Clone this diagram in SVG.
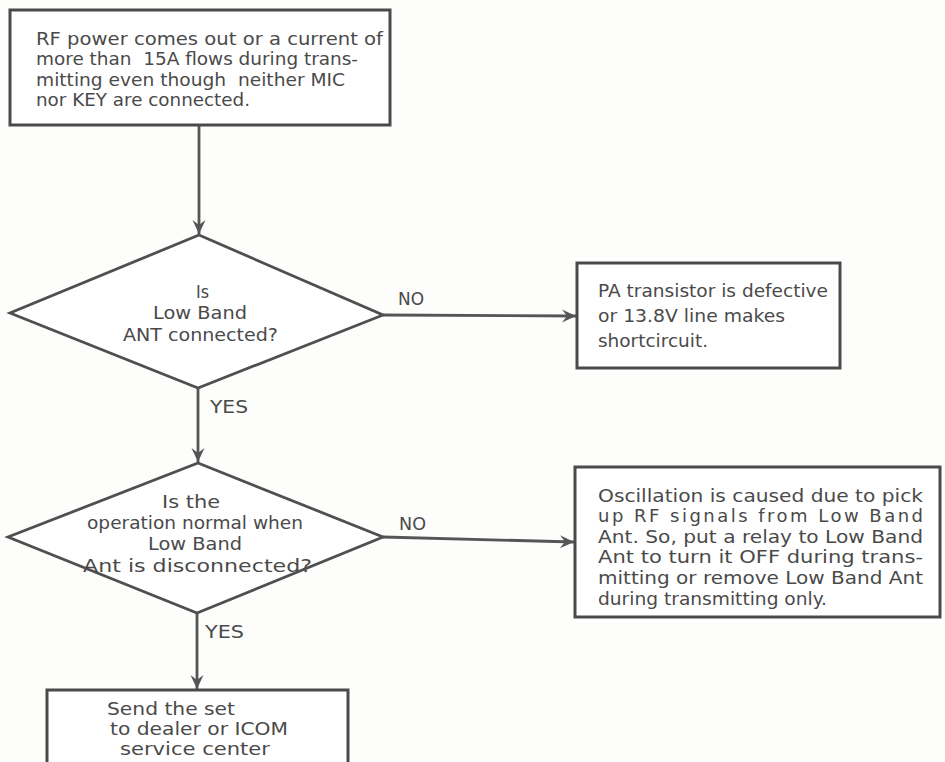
<svg xmlns="http://www.w3.org/2000/svg" width="945" height="762" viewBox="0 0 945 762">
<defs>
<style>
.bg{fill:#fdfdfc}
.box{fill:#ffffff;stroke:#4a4a4a;stroke-width:3}
.dia{fill:#ffffff;stroke:#4f4f4f;stroke-width:2.8;stroke-linejoin:miter}
.t{font-family:"DejaVu Sans","Liberation Sans",sans-serif;font-size:18px;fill:#4a4a4a}
.lbl{font-family:"DejaVu Sans","Liberation Sans",sans-serif;font-size:18px;fill:#4a4a4a}
.c{fill:none;stroke:#555555;stroke-width:2.8}
</style>
<marker id="arr" viewBox="-15 -8 17 16" refX="0" refY="0" markerWidth="17" markerHeight="16" orient="auto" markerUnits="userSpaceOnUse">
<path d="M0,0 L-14,-6.5 L-9,0 L-14,6.5 Z" fill="#555555"/>
</marker>
</defs>
<rect class="bg" x="0" y="0" width="945" height="762"/>

<g id="connectors">
<line class="c" x1="199" y1="126" x2="199" y2="234" marker-end="url(#arr)"/>
<line class="c" x1="198" y1="388" x2="198" y2="462" marker-end="url(#arr)"/>
<line class="c" x1="383" y1="315" x2="576" y2="316" marker-end="url(#arr)"/>
<line class="c" x1="383" y1="537" x2="574" y2="542" marker-end="url(#arr)"/>
<line class="c" x1="197" y1="613" x2="197" y2="689" marker-end="url(#arr)"/>
<text class="lbl" x="210" y="413" textLength="38" lengthAdjust="spacingAndGlyphs">YES</text>
<text class="lbl" x="398" y="305" textLength="26" lengthAdjust="spacingAndGlyphs">NO</text>
<text class="lbl" x="399" y="530" textLength="27" lengthAdjust="spacingAndGlyphs">NO</text>
<text class="lbl" x="205" y="638" textLength="39" lengthAdjust="spacingAndGlyphs">YES</text>
</g>

<g id="start">
<rect class="box" x="10" y="10" width="380" height="115"/>
<text class="t" x="36" y="45" textLength="347" lengthAdjust="spacingAndGlyphs">RF power comes out or a current of</text>
<text class="t" x="36" y="65" textLength="322" lengthAdjust="spacingAndGlyphs" xml:space="preserve">more than  15A flows during trans-</text>
<text class="t" x="36" y="86" textLength="309" lengthAdjust="spacingAndGlyphs" xml:space="preserve">mitting even though  neither MIC</text>
<text class="t" x="36" y="106" textLength="214" lengthAdjust="spacingAndGlyphs">nor KEY are connected.</text>
</g>

<g id="decision1">
<polygon class="dia" points="199,235 383,315 198,388 10,313"/>
<text class="t" x="196" y="298" textLength="13" lengthAdjust="spacingAndGlyphs">Is</text>
<text class="t" x="153" y="319" textLength="94" lengthAdjust="spacingAndGlyphs">Low Band</text>
<text class="t" x="123" y="341" textLength="155" lengthAdjust="spacingAndGlyphs">ANT connected?</text>
</g>

<g id="defect">
<rect class="box" x="577" y="263" width="263" height="105"/>
<text class="t" x="598" y="297" textLength="230" lengthAdjust="spacingAndGlyphs">PA transistor is defective</text>
<text class="t" x="598" y="322" textLength="187" lengthAdjust="spacingAndGlyphs">or 13.8V line makes</text>
<text class="t" x="598" y="347" textLength="110" lengthAdjust="spacingAndGlyphs">shortcircuit.</text>
</g>

<g id="decision2">
<polygon class="dia" points="198,463 383,537 197,613 8,537"/>
<text class="t" x="162" y="508" textLength="58" lengthAdjust="spacingAndGlyphs">Is the</text>
<text class="t" x="87" y="529" textLength="216" lengthAdjust="spacingAndGlyphs">operation normal when</text>
<text class="t" x="148" y="550" textLength="94" lengthAdjust="spacingAndGlyphs">Low Band</text>
<text class="t" x="83" y="572" textLength="229" lengthAdjust="spacingAndGlyphs">Ant is disconnected?</text>
</g>

<g id="oscillation">
<rect class="box" x="575" y="467" width="365" height="150"/>
<text class="t" x="598" y="502" textLength="325" lengthAdjust="spacingAndGlyphs">Oscillation is caused due to pick</text>
<text class="t" x="598" y="522" textLength="325" lengthAdjust="spacing">up RF signals from Low Band</text>
<text class="t" x="598" y="543" textLength="325" lengthAdjust="spacingAndGlyphs">Ant. So, put a relay to Low Band</text>
<text class="t" x="598" y="563" textLength="325" lengthAdjust="spacingAndGlyphs">Ant to turn it OFF during trans-</text>
<text class="t" x="598" y="584" textLength="325" lengthAdjust="spacingAndGlyphs">mitting or remove Low Band Ant</text>
<text class="t" x="598" y="605" textLength="229" lengthAdjust="spacingAndGlyphs">during transmitting only.</text>
</g>

<g id="service">
<rect class="box" x="47" y="690" width="301" height="100"/>
<text class="t" x="107" y="715" textLength="128" lengthAdjust="spacingAndGlyphs">Send the set</text>
<text class="t" x="110" y="735" textLength="178" lengthAdjust="spacingAndGlyphs">to dealer or ICOM</text>
<text class="t" x="120" y="755" textLength="150" lengthAdjust="spacingAndGlyphs">service center</text>
</g>
</svg>
